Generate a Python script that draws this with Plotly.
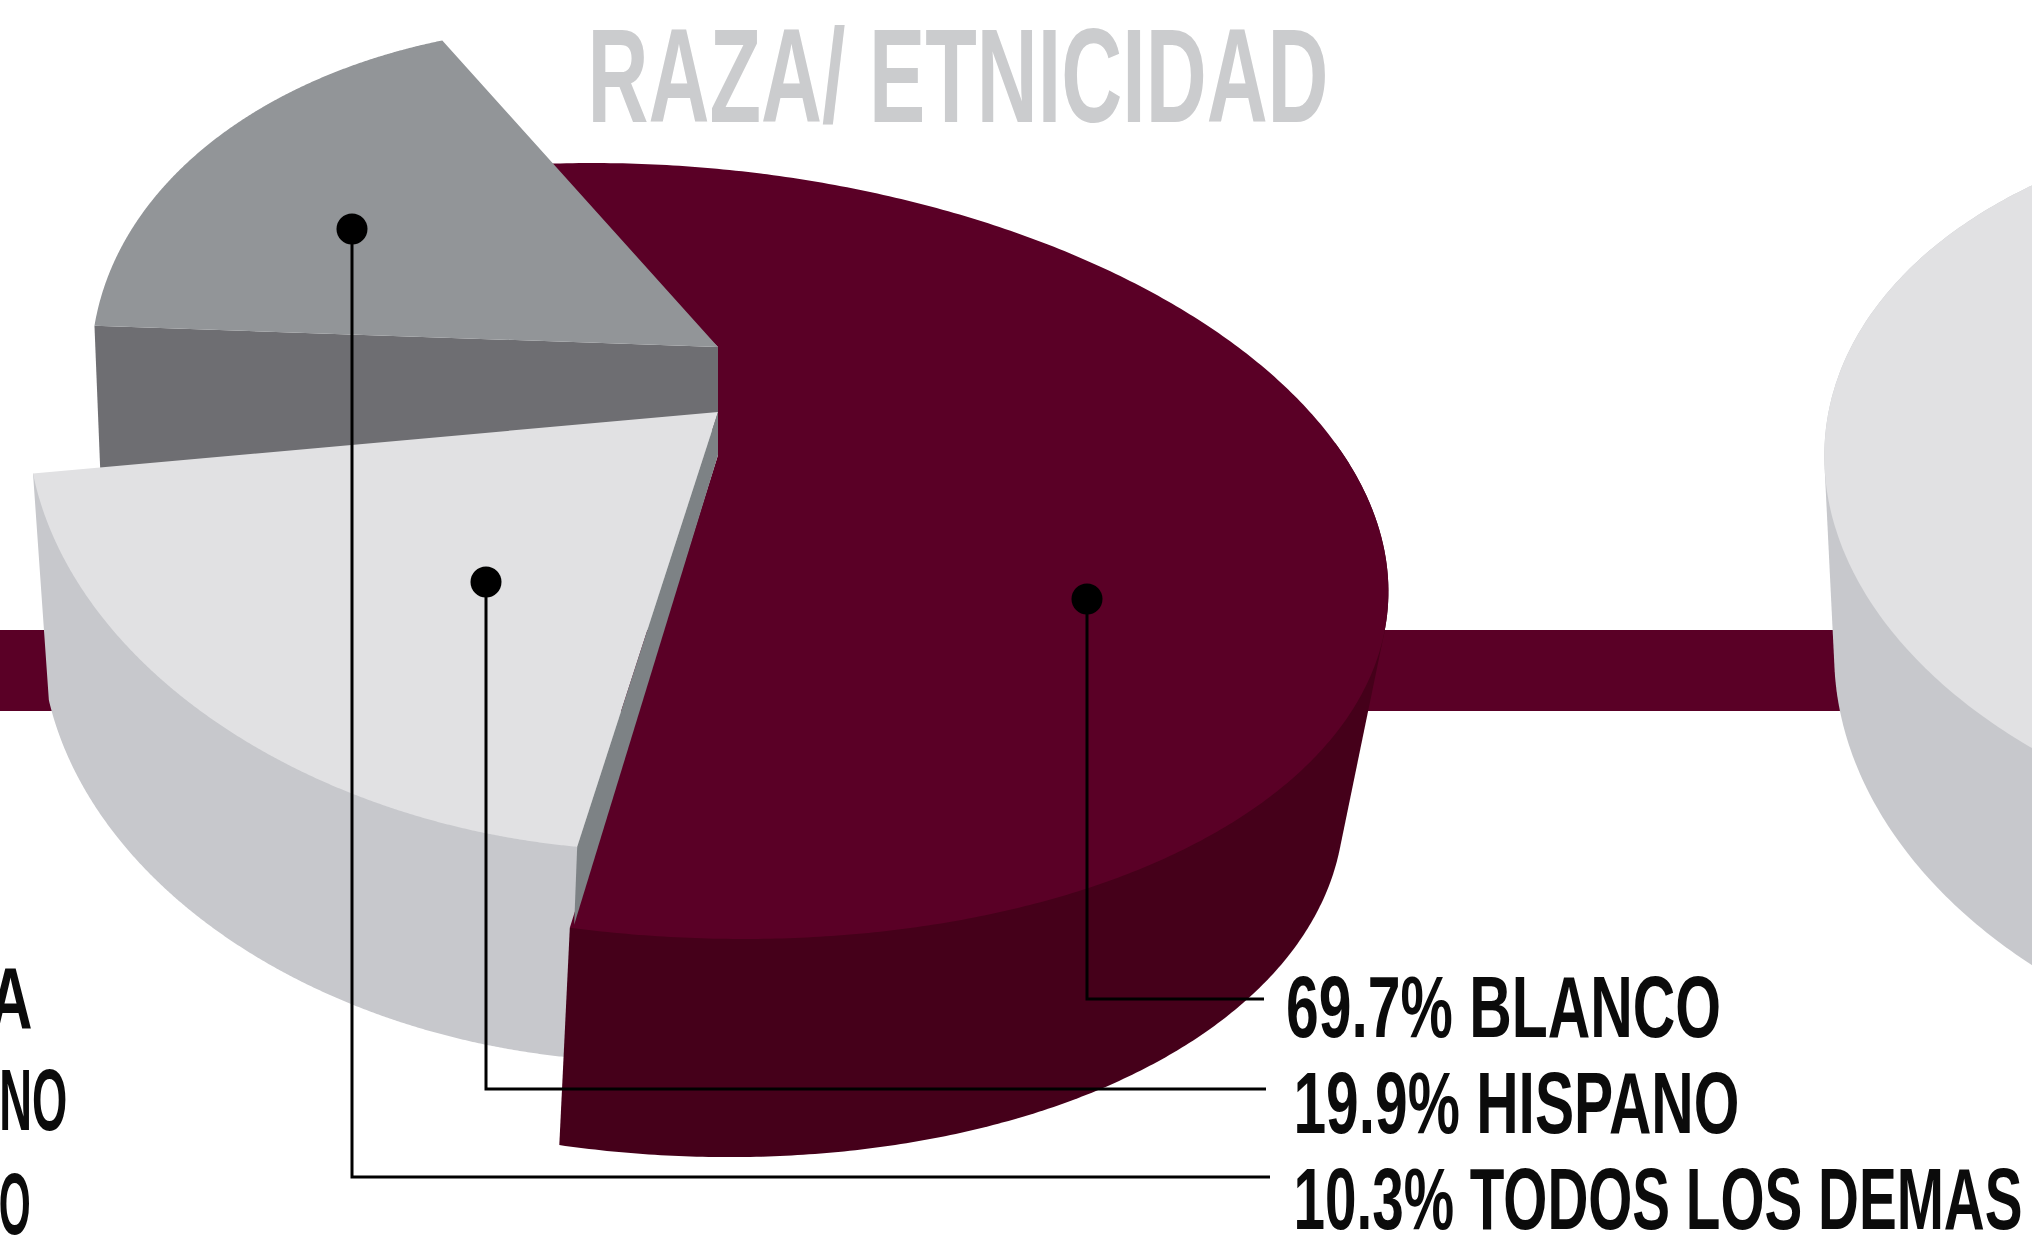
import json
import numpy as np
import plotly.graph_objects as go

labels = ["BLANCO", "HISPANO", "TODOS LOS DEMAS"]
values = [69.7, 19.9, 10.3]
left_cut_labels = ["A", "NO", "O"]
title_text = "RAZA/ ETNICIDAD"

W, H = 2032, 1245
FONT = "Liberation Sans"
INK = "#0b0b0b"

def ellipse(c, rx, ry, t, tilt=5):
    t, a = np.radians(t), np.radians(tilt)
    x, y = rx*np.cos(t), ry*np.sin(t)
    return np.stack([c[0]+x*np.cos(a)-y*np.sin(a), c[1]+x*np.sin(a)+y*np.cos(a)], 1)

def hull(pts):
    pts = sorted(map(tuple, pts))
    def half(seq):
        out = []
        for p in seq:
            while len(out) > 1 and (out[-1][0]-out[-2][0])*(p[1]-out[-2][1])-(out[-1][1]-out[-2][1])*(p[0]-out[-2][0]) <= 0:
                out.pop()
            out.append(p)
        return out[:-1]
    return np.array(half(pts)+half(pts[::-1]))

fig = go.Figure()
def poly(pts, color):
    pts = np.asarray(pts, float)
    fig.add_trace(go.Scatter(x=pts[:, 0], y=pts[:, 1], mode="lines", fill="toself", fillcolor=color,
                             line=dict(width=0, color=color, simplify=False), hoverinfo="skip", showlegend=False))

# band behind the pies
fig.add_shape(type="rect", x0=0, x1=W, y0=630, y1=711, fillcolor="#5a0026", line_width=0, layer="below")

# neighbouring pie, cut by the right edge
tr = np.linspace(110, 250, 200)
poly(hull(np.vstack([ellipse((2400, 486), 577, 365, tr), ellipse((2410, 680), 577, 400, tr)])), "#c7c8cc")
poly(ellipse((2400, 486), 577, 365, tr), "#e1e1e3")

# each slice: sweep = value share x 360 x foreshortening gain, from a start angle on its own rim
share = [v/sum(values)*360 for v in values]

def arc(start, gain, sweep):
    return np.linspace(start, start+gain*sweep, 400)

# light slice (HISPANO): side first, top face goes over the grey slice later
t = arc(87.5, 1.11, share[1])
light_top = ellipse((600, 455), 575, 392, t, tilt=7)
low = ellipse((615, 660), 575, 400, t)
poly(hull(np.vstack([light_top, low])), "#c7c8cc")

# maroon slice (BLANCO)
t = arc(-104, 0.794, share[0])
top = ellipse((668, 551), 722, 385, t, tilt=4.5)
low = ellipse((658, 764), 688, 390, t)
k = t > -25
poly(hull(np.vstack([top[k], low[k]])), "#45001a")
poly(np.vstack([top, [(718, 455), (718, 347)]]), "#5a0026")

# dark grey slice (TODOS LOS DEMAS)
t = arc(183, 1.70, share[2])
top = ellipse((632, 392), 542, 365, t)
poly([top[0], top[0]+(6, 150), (718, 430), (718, 347)], "#6e6e72")
poly(np.vstack([[(718, 347)], top]), "#929598")

# light slice top face and its cut face
poly(np.vstack([[(718, 412)], light_top]), "#e1e1e3")
poly([(718, 412), (718, 455), light_top[0]+(-3, 78), light_top[0]], "#7d8285")

# leader lines and dots
dots = [(1087, 599), (486, 582), (352, 229)]
line_y = [999, 1089, 1177]
line_end = [1264, 1266, 1270]
for (dx, dy), ly, le in zip(dots, line_y, line_end):
    fig.add_trace(go.Scatter(x=[dx, dx, le], y=[dy, ly, ly], mode="lines",
                             line=dict(color="#000", width=3), hoverinfo="skip", showlegend=False))
    fig.add_trace(go.Scatter(x=[dx], y=[dy], mode="markers", marker=dict(color="#000", size=31),
                             hoverinfo="skip", showlegend=False))

# texts: (text, left, right, centre y, size, colour)
texts = [(f"{v}% {l}", x0, x1, y, 87, INK)
         for v, l, x0, x1, y in zip(values, labels, [1286, 1293, 1293], [1721, 1739, 2022], [1006, 1102, 1198])]
texts += [(s, x0, x1, y, 87, INK)
          for s, x0, x1, y in zip(left_cut_labels, [-12, -1, -1], [32, 67, 31], [997, 1099, 1203])]
texts += [(title_text, 587, 1328, 75, 134, "#cbccce")]
for s, x0, x1, y, size, col in texts:
    fig.add_annotation(x=(x0+x1)/2, y=y, xanchor="center", yanchor="middle", showarrow=False, text=s,
                       font=dict(family=FONT, size=size, color=col, weight=700))

fig.update_layout(width=W, height=H, margin=dict(l=0, r=0, t=0, b=0), paper_bgcolor="#fff", plot_bgcolor="#fff",
                  xaxis=dict(range=[0, W], visible=False, fixedrange=True),
                  yaxis=dict(range=[H, 0], visible=False, fixedrange=True), showlegend=False)

widths = json.dumps([x1-x0 for _, x0, x1, *_ in texts])
post = """
document.documentElement.style.margin='0';document.body.style.margin='0';document.body.style.overflow='hidden';
var w=%s;
document.querySelectorAll('.annotation-text').forEach(function(n,i){
  n.setAttribute('textLength',w[i]);n.setAttribute('lengthAdjust','spacingAndGlyphs');
});
""" % widths
fig.write_html("out.html", config=dict(displayModeBar=False), post_script=post)
